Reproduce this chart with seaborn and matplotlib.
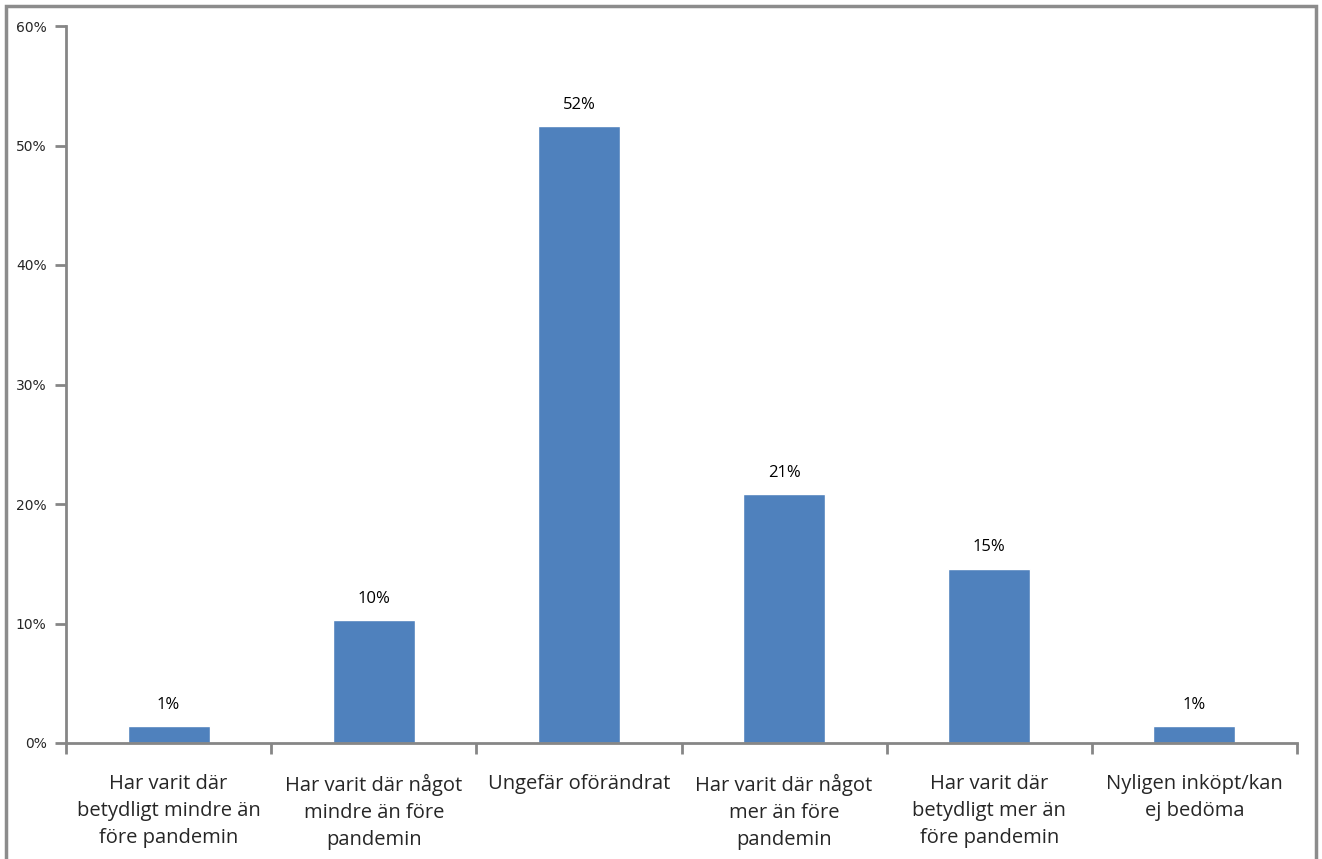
import matplotlib
matplotlib.use('Agg')
import matplotlib.pyplot as plt
import matplotlib.patches as mpatches
from matplotlib.ticker import PercentFormatter
import pandas as pd
import seaborn as sns

categories = [
    'Har varit där\nbetydligt mindre än\nföre pandemin',
    'Har varit där något\nmindre än före\npandemin',
    'Ungefär oförändrat',
    'Har varit där något\nmer än före\npandemin',
    'Har varit där\nbetydligt mer än\nföre pandemin',
    'Nyligen inköpt/kan\nej bedöma',
]
values = [1.4, 10.3, 51.6, 20.8, 14.6, 1.4]
bar_labels = ['1%', '10%', '52%', '21%', '15%', '1%']

df = pd.DataFrame({'cat': categories, 'val': values})

sns.set_style('white')
plt.rcParams['font.family'] = ['Open Sans', 'DejaVu Sans']

fig = plt.figure(figsize=(13.22, 8.59), dpi=100)
ax = fig.add_axes([66 / 1322, 1 - 743 / 859, (1297 - 66) / 1322, (743 - 26) / 859])

sns.barplot(data=df, x='cat', y='val', color='#4F81BD', width=0.4,
            saturation=1, ax=ax)

for i, (v, lab) in enumerate(zip(values, bar_labels)):
    ax.text(i, v + 1.1, lab, ha='center', va='bottom', fontsize=12, color='black')

ax.set_xlim(-0.5, len(values) - 0.5)
ax.set_ylim(0, 60)
ax.set_yticks(range(0, 61, 10))
ax.yaxis.set_major_formatter(PercentFormatter(decimals=0))
ax.set_xlabel('')
ax.set_ylabel('')

gray = '#868686'
for s in ['top', 'right']:
    ax.spines[s].set_visible(False)
for s in ['left', 'bottom']:
    ax.spines[s].set_color(gray)
    ax.spines[s].set_linewidth(2)

ax.set_xticks([i - 0.5 for i in range(len(values) + 1)], minor=True)
ax.set_xticks(range(len(values)))
ax.set_xticklabels(categories, fontsize=14.5, linespacing=1.47)
ax.tick_params(axis='x', which='major', length=0, pad=22)
ax.tick_params(axis='x', which='minor', length=8, width=2, color=gray, direction='out')
ax.tick_params(axis='y', length=8, width=2, color=gray, direction='out',
               labelsize=10, pad=6)
ax.yaxis.set_tick_params(which='major', left=True)
ax.xaxis.set_tick_params(which='minor', bottom=True)
for t in ax.get_yticklabels():
    t.set_family(['DejaVu Sans'])

border = mpatches.Rectangle((6 / 1322, -0.05), (1316 - 6) / 1322, 1.05 - 6 / 859,
                            transform=fig.transFigure, fill=False,
                            edgecolor='#8c8c8c', linewidth=2.5, zorder=0)
fig.patches.append(border)

fig.savefig('out.png', dpi=100)
